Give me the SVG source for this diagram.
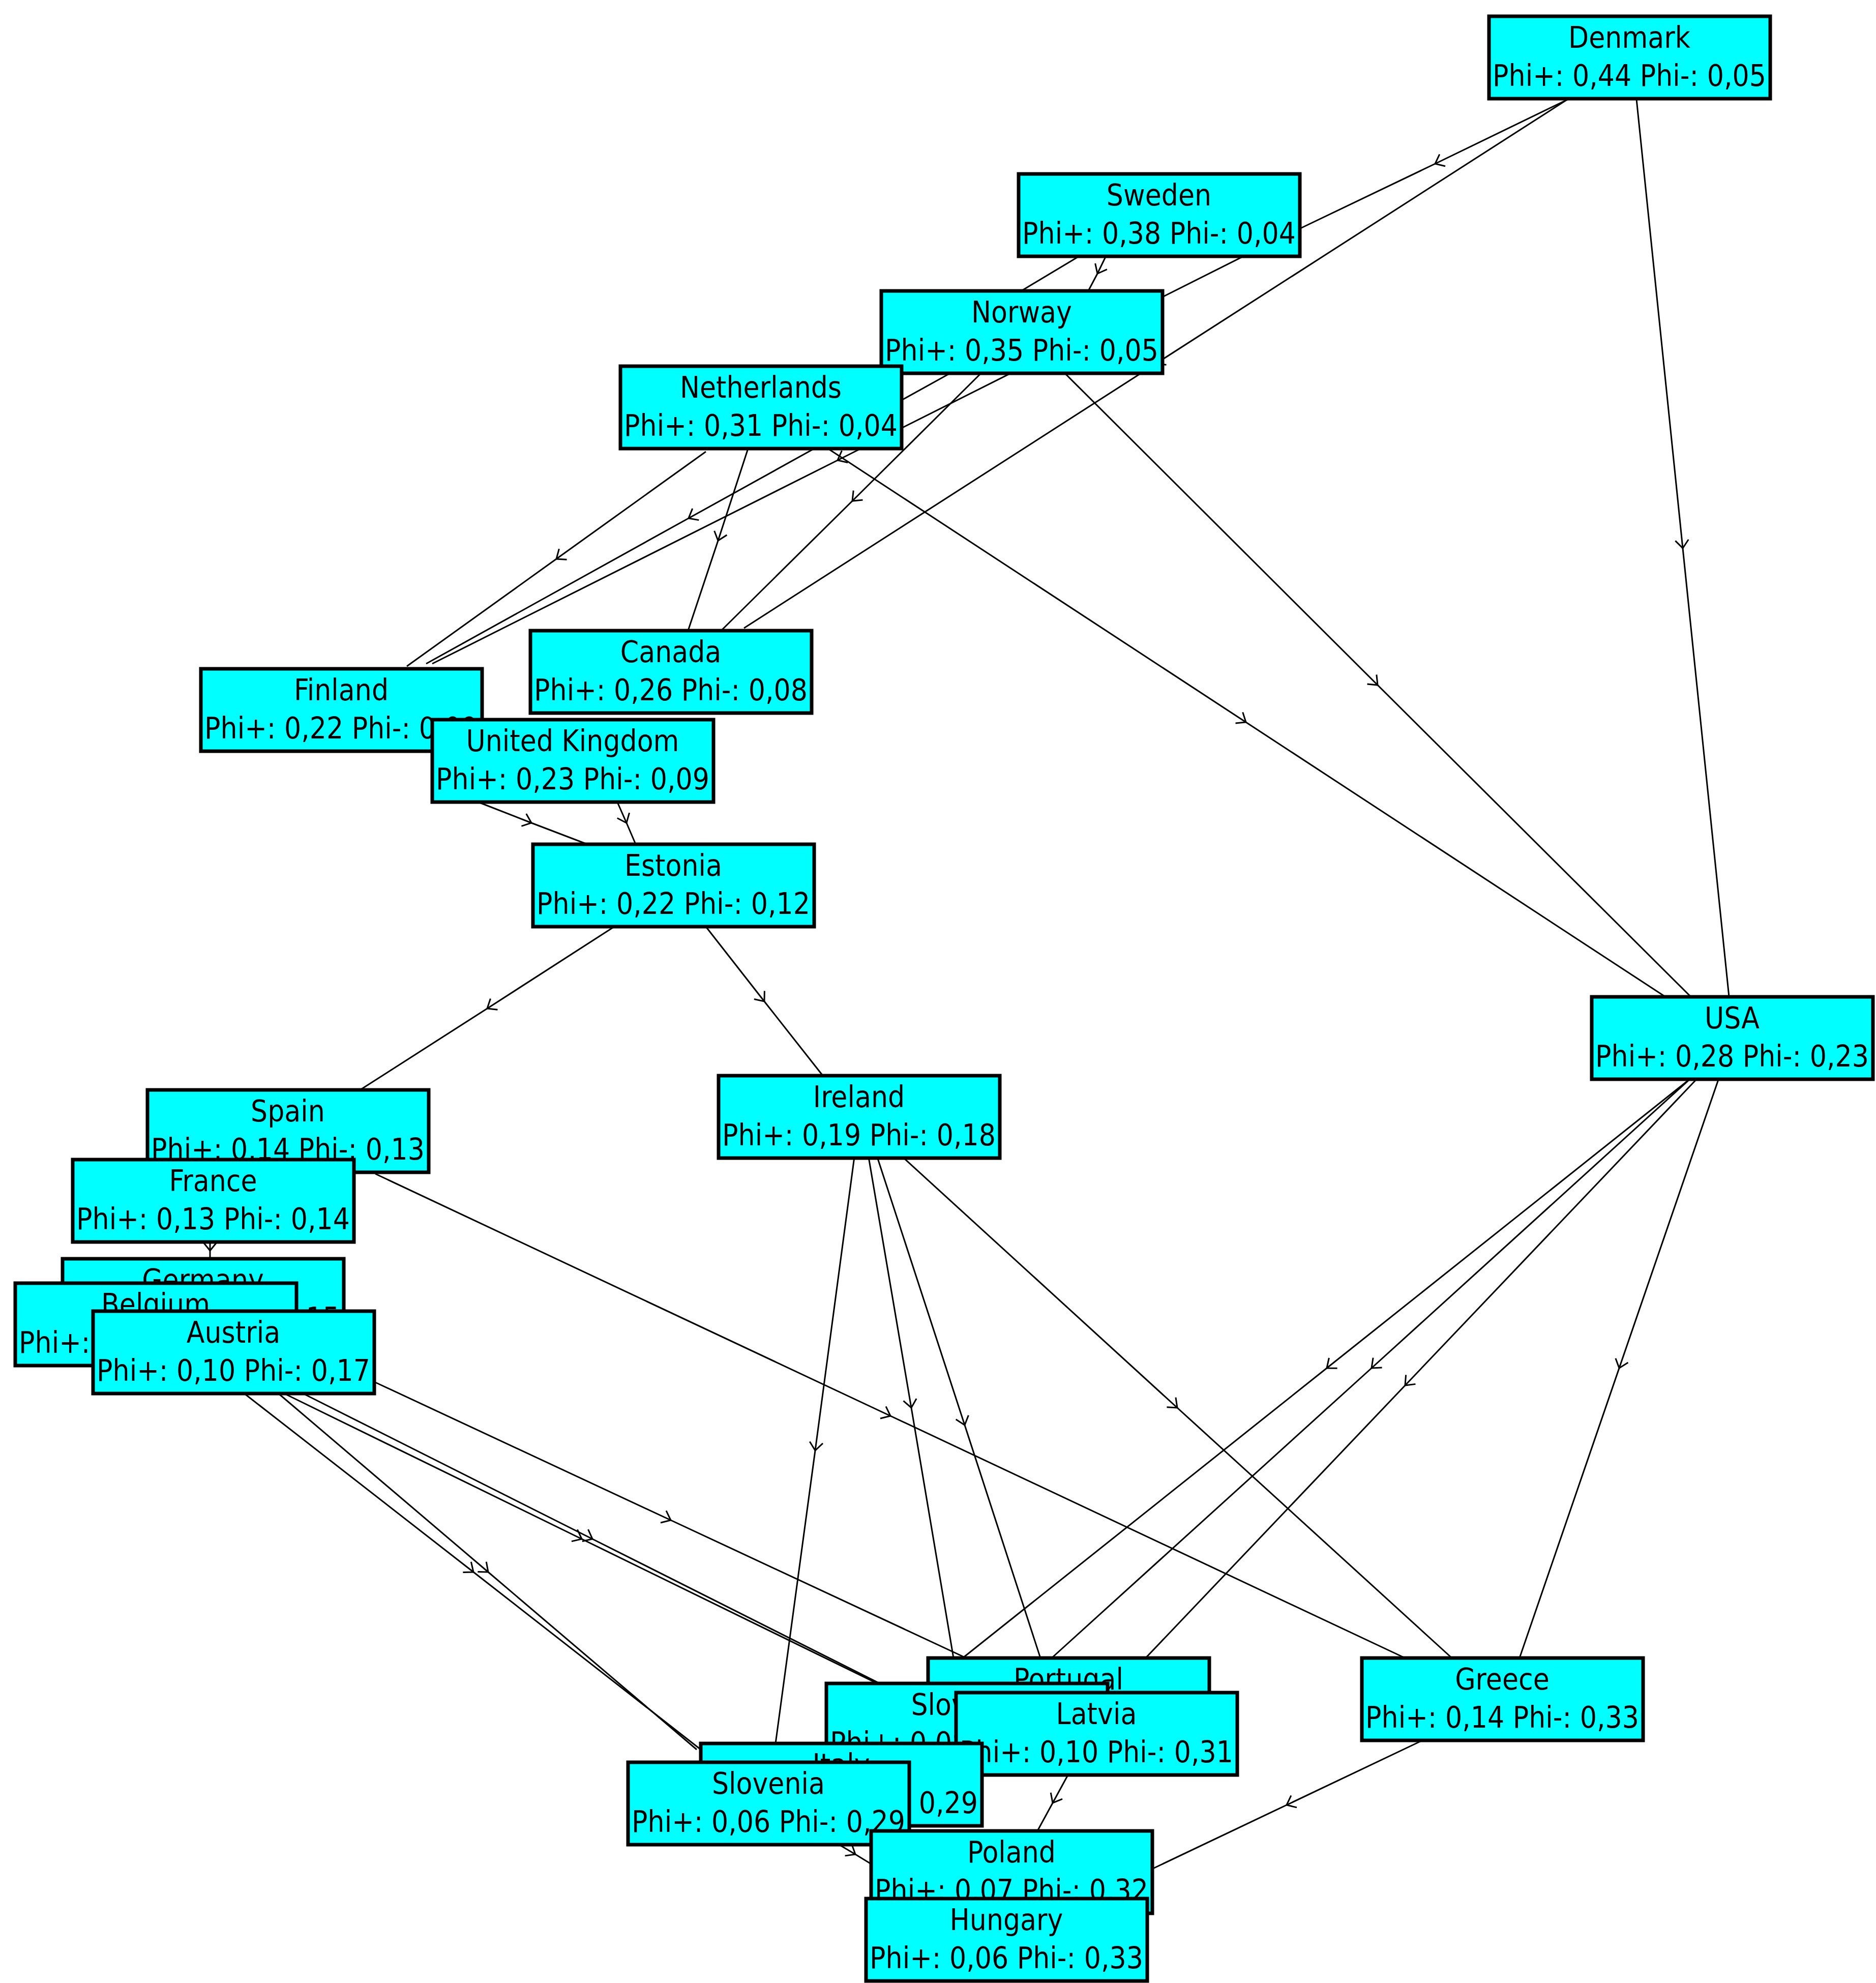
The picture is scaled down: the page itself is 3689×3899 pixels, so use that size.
<svg xmlns="http://www.w3.org/2000/svg" width="3689" height="3899" viewBox="0 0 3689 3899">
<style>
.n rect{fill:#00ffff;stroke:#000;stroke-width:7}
.n text{font-family:"DejaVu Sans Condensed","DejaVu Sans",sans-serif;font-size:58px;fill:#000;text-anchor:middle}
#edges path{fill:none;stroke:#000;stroke-width:3;marker-mid:url(#a)}
</style>
<defs><marker id="a" markerUnits="userSpaceOnUse" markerWidth="40" markerHeight="40" refX="0" refY="0" viewBox="-20 -20 40 40" orient="auto"><path d="M-16,-13 L0,0 L-16,13" fill="none" stroke="#000" stroke-width="3"/></marker></defs>
<rect width="3689" height="3899" fill="#fff"/>
<g id="edges">
<path d="M3088,193 L2822,322 L2555,450"/>
<path d="M3083,195 L2273,715 L1463,1235"/>
<path d="M3218,195 L3309,1078 L3400,1960"/>
<path d="M2175,503 L2158,538 L2140,572"/>
<path d="M2120,505 L1940,613 L1760,720"/>
<path d="M2443,505 L1647,905 L850,1305"/>
<path d="M1388,888 L1094,1099 L800,1310"/>
<path d="M1870,733 L1354,1019 L838,1305"/>
<path d="M1470,885 L1412,1063 L1353,1240"/>
<path d="M1933,730 L1676,985 L1418,1240"/>
<path d="M1625,880 L2450,1420 L3275,1960"/>
<path d="M2093,733 L2709,1347 L3325,1960"/>
<path d="M1213,1575 L1232,1618 L1250,1660"/>
<path d="M935,1575 L1045,1618 L1155,1660"/>
<path d="M1208,1822 L958,1983 L708,2143"/>
<path d="M1388,1822 L1503,1969 L1618,2115"/>
<path d="M738,2308 L1751,2784 L2763,3260"/>
<path d="M413,2442 L413,2459 L413,2475"/>
<path d="M1680,2275 L1603,2852 L1525,3428"/>
<path d="M1708,2275 L1792,2768 L1875,3260"/>
<path d="M1725,2275 L1897,2802 L2068,3328"/>
<path d="M1775,2275 L2315,2768 L2855,3260"/>
<path d="M3325,2120 L2609,2690 L1893,3260"/>
<path d="M3325,2120 L2697,2690 L2068,3260"/>
<path d="M3338,2120 L2763,2724 L2188,3328"/>
<path d="M3380,2120 L3184,2690 L2988,3260"/>
<path d="M738,2718 L1319,2989 L1900,3260"/>
<path d="M563,2742 L1144,3026 L1725,3310"/>
<path d="M600,2742 L1165,3026 L1730,3310"/>
<path d="M483,2742 L931,3091 L1378,3440"/>
<path d="M550,2742 L960,3091 L1370,3440"/>
<path d="M2100,3490 L2070,3545 L2040,3600"/>
<path d="M2795,3423 L2530,3549 L2265,3675"/>
<path d="M1650,3627 L1682,3646 L1713,3665"/>
</g>
<g id="denmark" class="n"><rect x="2928" y="32" width="553" height="162"/><text x="3204" y="94">Denmark</text><text x="3204" y="169">Phi+: 0,44  Phi-: 0,05</text></g>
<g id="sweden" class="n"><rect x="2003" y="342" width="553" height="162"/><text x="2279" y="404">Sweden</text><text x="2279" y="479">Phi+: 0,38  Phi-: 0,04</text></g>
<g id="norway" class="n"><rect x="1733" y="572" width="553" height="162"/><text x="2009" y="634">Norway</text><text x="2009" y="709">Phi+: 0,35  Phi-: 0,05</text></g>
<g id="netherlands" class="n"><rect x="1220" y="720" width="553" height="162"/><text x="1496" y="782">Netherlands</text><text x="1496" y="857">Phi+: 0,31  Phi-: 0,04</text></g>
<g id="canada" class="n"><rect x="1043" y="1240" width="553" height="162"/><text x="1319" y="1302">Canada</text><text x="1319" y="1377">Phi+: 0,26  Phi-: 0,08</text></g>
<g id="finland" class="n"><rect x="395" y="1315" width="553" height="162"/><text x="671" y="1377">Finland</text><text x="671" y="1452">Phi+: 0,22  Phi-: 0,09</text></g>
<g id="uk" class="n"><rect x="850" y="1415" width="553" height="162"/><text x="1126" y="1477">United Kingdom</text><text x="1126" y="1552">Phi+: 0,23  Phi-: 0,09</text></g>
<g id="estonia" class="n"><rect x="1048" y="1660" width="553" height="162"/><text x="1324" y="1722">Estonia</text><text x="1324" y="1797">Phi+: 0,22  Phi-: 0,12</text></g>
<g id="usa" class="n"><rect x="3130" y="1960" width="553" height="162"/><text x="3406" y="2022">USA</text><text x="3406" y="2097">Phi+: 0,28  Phi-: 0,23</text></g>
<g id="ireland" class="n"><rect x="1413" y="2115" width="553" height="162"/><text x="1689" y="2177">Ireland</text><text x="1689" y="2252">Phi+: 0,19  Phi-: 0,18</text></g>
<g id="spain" class="n"><rect x="290" y="2143" width="553" height="162"/><text x="566" y="2205">Spain</text><text x="566" y="2280">Phi+: 0,14  Phi-: 0,13</text></g>
<g id="france" class="n"><rect x="143" y="2280" width="553" height="162"/><text x="419" y="2342">France</text><text x="419" y="2417">Phi+: 0,13  Phi-: 0,14</text></g>
<g id="germany" class="n"><rect x="123" y="2475" width="553" height="162"/><text x="399" y="2537">Germany</text><text x="399" y="2612">Phi+: 0,12  Phi-: 0,15</text></g>
<g id="belgium" class="n"><rect x="30" y="2523" width="553" height="162"/><text x="306" y="2585">Belgium</text><text x="306" y="2660">Phi+: 0,11  Phi-: 0,16</text></g>
<g id="austria" class="n"><rect x="183" y="2578" width="553" height="162"/><text x="459" y="2640">Austria</text><text x="459" y="2715">Phi+: 0,10  Phi-: 0,17</text></g>
<g id="greece" class="n"><rect x="2678" y="3260" width="553" height="162"/><text x="2954" y="3322">Greece</text><text x="2954" y="3397">Phi+: 0,14  Phi-: 0,33</text></g>
<g id="portugal" class="n"><rect x="1825" y="3260" width="553" height="162"/><text x="2101" y="3322">Portugal</text><text x="2101" y="3397">Phi+: 0,09  Phi-: 0,28</text></g>
<g id="slovakia" class="n"><rect x="1625" y="3310" width="553" height="162"/><text x="1901" y="3372">Slovakia</text><text x="1901" y="3447">Phi+: 0,08  Phi-: 0,30</text></g>
<g id="latvia" class="n"><rect x="1880" y="3328" width="553" height="162"/><text x="2156" y="3390">Latvia</text><text x="2156" y="3465">Phi+: 0,10  Phi-: 0,31</text></g>
<g id="italy" class="n"><rect x="1378" y="3428" width="553" height="162"/><text x="1654" y="3490">Italy</text><text x="1654" y="3565">Phi+: 0,07  Phi-: 0,29</text></g>
<g id="slovenia" class="n"><rect x="1235" y="3465" width="553" height="162"/><text x="1511" y="3527">Slovenia</text><text x="1511" y="3602">Phi+: 0,06  Phi-: 0,29</text></g>
<g id="poland" class="n"><rect x="1713" y="3600" width="553" height="162"/><text x="1989" y="3662">Poland</text><text x="1989" y="3737">Phi+: 0,07  Phi-: 0,32</text></g>
<g id="hungary" class="n"><rect x="1703" y="3733" width="553" height="162"/><text x="1979" y="3795">Hungary</text><text x="1979" y="3870">Phi+: 0,06  Phi-: 0,33</text></g>
</svg>
